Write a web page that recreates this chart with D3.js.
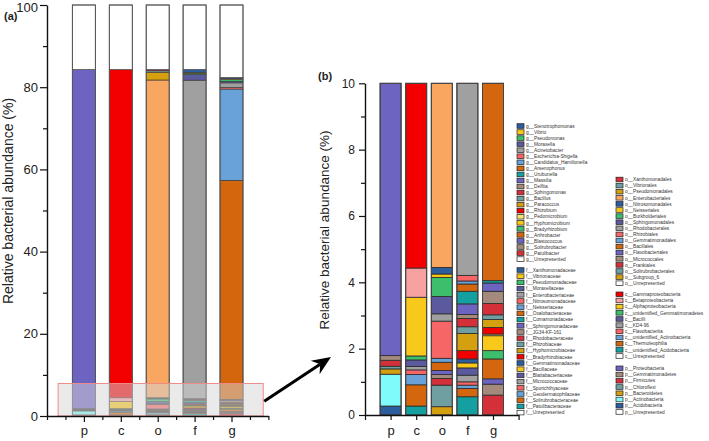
<!DOCTYPE html>
<html><head><meta charset="utf-8">
<script src="https://cdn.jsdelivr.net/npm/d3@7"></script>
<style>
body{margin:0;background:#fff}
svg{display:block}
text{font-family:"Liberation Sans",Arial,Helvetica,sans-serif;fill:#222}
</style>
</head><body>
<svg id="chart" width="709" height="441"></svg>
<script>
// ---------- palette ----------
const darkBlue="#2c5d9f", yellow="#f8c81a", green="#3cbf6c", slate="#5b5a9e", gray="#a0a0a0",
      salmon="#f66666", lightBlue="#69a2d9", orange="#d4670d", teal="#14a0a0", purple="#6d63c0",
      brown="#a38a7c", red1="#d4303a", tealGray="#6f9fa0", gold="#d4a00f", red2="#f20000",
      lightYellow="#f7e27a", lightOrange="#f9a661", pink="#f8a1a1", cyan="#80fbfb", white="#ffffff";

// ---------- data ----------
const categories = ["p","c","o","f","g"];
const yTicksA = [0,20,40,60,80,100];
const yTicksB = [0,2,4,6,8,10];

const phylumNames = ["p__Proteobacteria","p__Gemmatimonadetes","p__Firmicutes","p__Chloroflexi","p__Bacteroidetes","p__Actinobacteria","p__Acidobacteria","p__Unrepresented"];
const phylumColors = [purple,brown,red1,tealGray,gold,cyan,darkBlue,white];
const phylumValues = [82.5,0.14,0.18,0.08,0.16,0.96,0.27,15.71];

const classNames = ["c__Gammaproteobacteria","c__Betaproteobacteria","c__Alphaproteobacteria","c__unidentified_Gemmatimonadetes","c__Bacilli","c__KD4-96","c__Flavobacteriia","c__unidentified_Actinobacteria","c__Thermoleophilia","c__unidentified_Acidobacteria","c__Unrepresented"];
const classColors = [red2,pink,yellow,green,slate,gray,salmon,lightBlue,orange,teal,white];
const classValues = [79.87,0.88,1.77,0.12,0.2,0.1,0.14,0.31,0.64,0.27,15.7];

const orderNames = ["o__Xanthomonadales","o__Vibrionales","o__Pseudomonadales","o__Enterobacteriales","o__Nitrosomonadales","o__Neisseriales","o__Burkholderiales","o__Sphingomonadales","o__Rhodobacterales","o__Rhizobiales","o__Gemmatimonadales","o__Bacillales","o__Flavobacteriales","o__Micrococcales","o__Frankiales","o__Solirubrobacterales","o__Subgroup_6","o__Unrepresented"];
const orderColors = [red1,tealGray,gold,lightOrange,darkBlue,yellow,green,slate,gray,salmon,lightBlue,orange,purple,brown,red1,tealGray,gold,white];
const orderValues = [0.3,0.35,1.9,77.3,0.2,0.1,0.58,0.52,0.22,1.12,0.12,0.25,0.12,0.12,0.2,0.65,0.25,15.7];

const familyNames = ["f__Xanthomonadaceae","f__Vibrionaceae","f__Pseudomonadaceae","f__Moraxellaceae","f__Enterobacteriaceae","f__Nitrosomonadaceae","f__Neisseriaceae","f__Oxalobacteraceae","f__Comamonadaceae","f__Sphingomonadaceae","f__JG34-KF-161","f__Rhodobacteraceae","f__Rhizobiaceae","f__Hyphomicrobiaceae","f__Bradyrhizobiaceae","f__Gemmatimonadaceae","f__Bacillaceae","f__Blattabacteriaceae","f__Micrococcaceae","f__Sporichthyaceae","f__Geodermatophilaceae","f__Solirubrobacteraceae","f__Patulibacteraceae","f__Unrepresented"];
const familyColors = [darkBlue,yellow,green,slate,gray,salmon,lightBlue,orange,teal,purple,brown,red1,tealGray,gold,red2,darkBlue,yellow,slate,gray,salmon,lightBlue,orange,teal,white];
const familyValues = [0.7,0.25,0.3,1.35,77.5,0.17,0.09,0.22,0.38,0.32,0.12,0.25,0.2,0.52,0.25,0.12,0.15,0.22,0.2,0.1,0.1,0.25,0.55,15.69];

const genusNames = ["g__Stenotrophomonas","g__Vibrio","g__Pseudomonas","g__Moraxella","g__Acinetobacter","g__Escherichia-Shigella","g__Candidatus_Hamiltonella","g__Arsenophonus","g__Urubunella","g__Massilia","g__Delftia","g__Sphingomonas","g__Bacillus","g__Paracoccus","g__Rhizobium","g__Pedomicrobium","g__Hyphomicrobium","g__Bradyrhizobium","g__Arthrobacter","g__Blastococcus","g__Solirubrobacter","g__Patulibacter","g__Unrepresented"];
const genusColors = [darkBlue,yellow,green,slate,gray,salmon,lightBlue,orange,teal,purple,brown,red1,tealGray,gold,red2,lightYellow,yellow,green,orange,purple,brown,red1,white];
const genusValues = [0.3,0.2,0.4,0.4,1.1,0.4,22.2,53.3,0.07,0.25,0.37,0.34,0.14,0.24,0.2,0.05,0.45,0.25,0.6,0.16,0.33,0.6,17.65];

// each x category uses one taxonomic level
const levels = [
  {names:phylumNames, colors:phylumColors, values:phylumValues},
  {names:classNames, colors:classColors, values:classValues},
  {names:orderNames, colors:orderColors, values:orderValues},
  {names:familyNames, colors:familyColors, values:familyValues},
  {names:genusNames, colors:genusColors, values:genusValues}
];

// ---------- setup ----------
const svg = d3.select("#chart");
const xA = d3.scaleLinear().domain([0,6]).range([47,268.4]);
const yA = d3.scaleLinear().domain([0,100]).range([416,5]);
const xB = d3.scaleLinear().domain([0,6]).range([365,518.6]);
const yB = d3.scaleLinear().domain([0,10]).range([415,83.3]);
const bwA = 23, bwB = 21;

// stacking: named taxa bottom-up in reverse legend order, Unrepresented on top
function stackLevel(lv){
  const n = lv.values.length;
  const order = d3.range(n-2,-1,-1).concat([n-1]);
  let acc = 0;
  return order.map(k=>{ const s={name:lv.names[k], color:lv.colors[k], y0:acc, y1:acc+lv.values[k]}; acc+=lv.values[k]; return s; });
}
const stacks = levels.map(stackLevel);

// ---------- panel (a) ----------
const gA = svg.append("g");
stacks.forEach((st,i)=>{
  const cx = xA(i+1);
  gA.selectAll(null).data(st).enter().append("rect")
    .attr("x",cx-bwA/2).attr("width",bwA)
    .attr("y",d=>yA(d.y1)).attr("height",d=>Math.max(0,yA(d.y0)-yA(d.y1)))
    .attr("fill",d=>d.color).attr("stroke","#333").attr("stroke-width",0.6);
  gA.append("rect").attr("x",cx-bwA/2).attr("width",bwA)
    .attr("y",yA(d3.sum(st,d=>d.y1-d.y0))).attr("height",yA(0)-yA(d3.sum(st,d=>d.y1-d.y0)))
    .attr("fill","none").attr("stroke","#555").attr("stroke-width",1);
});
// highlight box of zoomed region
gA.append("rect").attr("x",xA(0.3)).attr("y",yA(7.9)).attr("width",xA(5.86)-xA(0.3)).attr("height",yA(0)-yA(7.9))
  .attr("fill","#d6d6d6").attr("fill-opacity",0.5).attr("stroke","#ef8a8a").attr("stroke-width",1);

function styleAxis(g){
  g.selectAll(".domain").attr("stroke","#111").attr("stroke-width",1.4);
  g.selectAll(".tick line").attr("stroke","#111").attr("stroke-width",1.2);
}
const axYA = svg.append("g").attr("transform",`translate(${xA(0)},0)`)
  .call(d3.axisLeft(yA).tickValues(yTicksA).tickSize(7).tickSizeOuter(0).tickPadding(2));
axYA.selectAll("text").attr("font-size",13).attr("dy",d=>d===100?"0.5em":"0.32em");
styleAxis(axYA);
const axYAm = svg.append("g").attr("transform",`translate(${xA(0)},0)`)
  .call(d3.axisLeft(yA).tickValues([10,30,50,70,90]).tickSize(4).tickFormat(""));
axYAm.select(".domain").remove(); styleAxis(axYAm);

const axXA = svg.append("g").attr("transform",`translate(0,${yA(0)})`)
  .call(d3.axisBottom(xA).tickValues([1,2,3,4,5]).tickSize(6).tickSizeOuter(0).tickPadding(4).tickFormat(d=>categories[d-1]));
axXA.selectAll("text").attr("font-size",13);
styleAxis(axXA);
const axXAm = svg.append("g").attr("transform",`translate(0,${yA(0)})`)
  .call(d3.axisBottom(xA).tickValues([0,0.5,1.5,2.5,3.5,4.5,5.5,6]).tickSize(4).tickFormat(""));
axXAm.select(".domain").remove(); styleAxis(axXAm);

svg.append("text").attr("transform",`translate(12.5,201) rotate(-90)`).attr("text-anchor","middle")
  .attr("font-size",14).text("Relative bacterial abundance (%)");
svg.append("text").attr("x",4).attr("y",20).attr("font-size",11).attr("font-weight","bold").text("(a)");

// arrow
(function(){
  const s=[xA(5.86)+1, yA(3.6)], t=[331,357];
  const dx=t[0]-s[0], dy=t[1]-s[1], L=Math.hypot(dx,dy), ux=dx/L, uy=dy/L, nx=-uy, ny=ux;
  const hl=19, hw=8, notch=13;
  const bx=t[0]-hl*ux, by=t[1]-hl*uy, mx=t[0]-notch*ux, my=t[1]-notch*uy;
  svg.append("line").attr("x1",s[0]).attr("y1",s[1]).attr("x2",mx).attr("y2",my).attr("stroke","#000").attr("stroke-width",3);
  svg.append("path").attr("d",`M${t[0]},${t[1]}L${bx+hw*nx},${by+hw*ny}L${mx},${my}L${bx-hw*nx},${by-hw*ny}Z`).attr("fill","#000");
})();

// ---------- panel (b) ----------
const gB = svg.append("g");
stacks.forEach((st,i)=>{
  const cx = xB(i+1);
  const seg = st.filter(d=>d.y0<10).map(d=>({...d, y1:Math.min(d.y1,10)}));
  gB.selectAll(null).data(seg).enter().append("rect")
    .attr("x",cx-bwB/2).attr("width",bwB)
    .attr("y",d=>yB(d.y1)).attr("height",d=>Math.max(0,yB(d.y0)-yB(d.y1)))
    .attr("fill",d=>d.color).attr("stroke","#2a2a2a").attr("stroke-width",0.8);
  gB.append("rect").attr("x",cx-bwB/2).attr("width",bwB).attr("y",yB(10)).attr("height",yB(0)-yB(10))
    .attr("fill","none").attr("stroke","#444").attr("stroke-width",1);
});
const axYB = svg.append("g").attr("transform",`translate(${xB(0)},0)`)
  .call(d3.axisLeft(yB).tickValues(yTicksB).tickSize(6).tickSizeOuter(0).tickPadding(4));
axYB.selectAll("text").attr("font-size",12);
styleAxis(axYB);
const axYBm = svg.append("g").attr("transform",`translate(${xB(0)},0)`)
  .call(d3.axisLeft(yB).tickValues([1,3,5,7,9]).tickSize(4).tickFormat(""));
axYBm.select(".domain").remove(); styleAxis(axYBm);
const axXB = svg.append("g").attr("transform",`translate(0,${yB(0)})`)
  .call(d3.axisBottom(xB).tickValues([1,2,3,4,5]).tickSize(5).tickSizeOuter(0).tickPadding(6).tickFormat(d=>categories[d-1]));
axXB.selectAll("text").attr("font-size",13);
styleAxis(axXB);
const axXBm = svg.append("g").attr("transform",`translate(0,${yB(0)})`)
  .call(d3.axisBottom(xB).tickValues([0,6]).tickSize(5).tickFormat(""));
axXBm.select(".domain").remove(); styleAxis(axXBm);

svg.append("text").attr("transform",`translate(328.5,230) rotate(-90)`).attr("text-anchor","middle")
  .attr("font-size",13.5).text("Relative bacterial abundance (%)");
svg.append("text").attr("x",318).attr("y",80).attr("font-size",11).attr("font-weight","bold").text("(b)");

// ---------- legends ----------
function legend(lv, x, y0, step){
  const g = svg.append("g");
  const it = g.selectAll(null).data(lv.names.map((n,i)=>({n,c:lv.colors[i],i}))).enter().append("g")
    .attr("transform",d=>`translate(${x},${y0+d.i*step})`);
  it.append("rect").attr("x",0).attr("y",-2.3).attr("width",7).attr("height",4.6)
    .attr("fill",d=>d.c).attr("stroke","#222").attr("stroke-width",0.7);
  it.append("text").attr("x",9).attr("y",1.7).attr("font-size",4.8).style("fill","#333").text(d=>d.n);
}
legend(levels[4], 517, 126, 6.05);
legend(levels[3], 517, 270, 6.2);
legend(levels[2], 616, 179.5, 6.1);
legend(levels[1], 616, 294.3, 6.17);
legend(levels[0], 616, 368.3, 6.24);
</script>
</body></html>
